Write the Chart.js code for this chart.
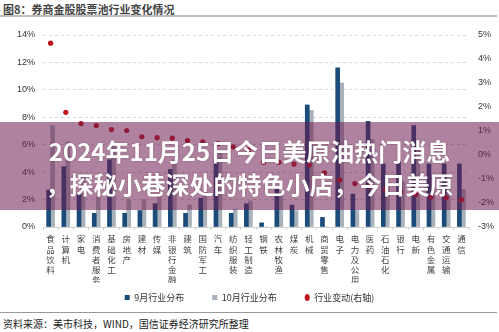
<!DOCTYPE html>
<html>
<head>
<meta charset="utf-8">
<script src="https://cdn.jsdelivr.net/npm/chart.js@4"></script>
<style>
  body { margin: 0; width: 499px; height: 332px; background: #fff; position: relative; overflow: hidden;
         font-family: "Noto Sans CJK SC", "Liberation Sans", sans-serif; }
  #title { position: absolute; left: 3px; top: 1px; font-size: 11px; font-weight: bold; color: #444; white-space: nowrap; }
  #topline { position: absolute; left: 0; top: 15px; width: 497px; height: 2px; background: #bdbdbd; }
  #wrap { position: absolute; left: 0; top: 20px; width: 499px; height: 292px; }
  #bottomline { position: absolute; left: 0; top: 312px; width: 497px; height: 1px; background: #999; }
  #source { position: absolute; left: 3px; top: 316px; font-size: 10px; color: #222; white-space: nowrap; }
  #banner { position: absolute; left: 0; top: 122px; width: 499px; height: 88px; background: rgba(110, 30, 80, 0.55);
            color: #fff; font-weight: bold; font-size: 24px; line-height: 33px; text-align: center; white-space: nowrap;
            padding-top: 12px; box-sizing: border-box; text-shadow: 0 0 2px rgba(60, 20, 40, 0.4); }
</style>
</head>
<body>
<div id="title">图8：券商金股股票池行业变化情况</div>
<div id="topline"></div>
<div id="wrap"><canvas id="chart"></canvas></div>
<div id="bottomline"></div>
<div id="source">资料来源：美市科技，WIND，国信证券经济研究所整理</div>
<div id="banner">2024年11月25日今日美原油热门消息<br>，探秘小巷深处的特色小店，今日美原</div>

<script>
// 行业（按行业变动排序）
const industries = ["食品饮料", "计算机", "家电", "消费者服务", "基础化工", "房地产", "建材", "传媒",
  "非银行金融", "建筑", "国防军工", "汽车", "纺织服装", "轻工制造", "钢铁", "农林牧渔", "煤炭", "机械",
  "商贸零售", "电子", "电力及公用事业", "医药", "石油石化", "银行", "电新", "有色金属", "交通运输", "通信"];

// 9月行业分布 (%)
const sepShare = [2.7, 4.4, 2.4, 1.0, 4.9, 1.0, 1.2, 1.7, 4.2, 1.0, 2.1, 4.9, 1.0, 1.7, 0.3, 2.8, 1.6, 8.9,
  0.7, 11.6, 2.4, 7.7, 4.6, 4.8, 7.4, 4.6, 4.6, 4.6];

// 10月行业分布 (%)
const octShare = [7.4, 6.2, 3.7, 2.2, 6.0, 2.0, 2.0, 2.4, 4.9, 1.6, 2.6, 5.4, 1.3, 1.9, 0.0, 2.5, 1.2, 8.5,
  0.0, 10.5, 1.2, 6.4, 3.2, 3.3, 5.75, 2.85, 2.8, 2.75];

// 行业变动 (右轴, %)
const shareChange = [4.66, 1.78, 1.31, 1.23, 1.06, 1.02, 0.76, 0.72, 0.70, 0.60, 0.55, 0.47, 0.34, 0.20,
  -0.30, -0.30, -0.38, -0.42, -0.74, -1.05, -1.19, -1.30, -1.44, -1.53, -1.65, -1.75, -1.78, -1.86];

// 竖排标签：每个字一行
const verticalLabels = industries.map((name) => name.split(""));

const ctx = document.getElementById("chart").getContext("2d");
new Chart(ctx, {
  data: {
    labels: verticalLabels,
    datasets: [
      {
        type: "bar",
        label: "9月行业分布",
        data: sepShare,
        backgroundColor: "#1b4b78",
        barThickness: 4,
        categoryPercentage: 0.53,
        pointStyle: "rect",
        order: 1,
      },
      {
        type: "bar",
        label: "10月行业分布",
        data: octShare,
        backgroundColor: "#a9b2bb",
        barThickness: 4,
        categoryPercentage: 0.53,
        pointStyle: "rect",
        order: 2,
      },
      {
        type: "line",
        label: "行业变动(右轴)",
        data: shareChange,
        yAxisID: "y1",
        showLine: false,
        pointRadius: 2.6,
        pointBackgroundColor: "#c0141c",
        pointBorderWidth: 0,
        pointStyle: "circle",
        borderColor: "#c0141c",
        backgroundColor: "#c0141c",
        order: 0,
      },
    ],
  },
  options: {
    responsive: true,
    maintainAspectRatio: false,
    animation: false,
    layout: { padding: { top: 15, left: 0, right: 0, bottom: 0 } },
    scales: {
      x: {
        grid: { display: true, drawOnChartArea: false, drawTicks: true, tickLength: 3, color: "#d0d0d0" },
        border: { color: "#d0d0d0" },
        ticks: {
          autoSkip: false,
          maxRotation: 0,
          minRotation: 0,
          padding: 4,
          color: "#444",
          font: { family: "Noto Sans CJK SC", size: 8.5, lineHeight: 1.2 },
        },
        afterFit: (s) => { s.height = 56; },
      },
      y: {
        position: "left",
        min: 0,
        max: 14,
        ticks: {
          stepSize: 2,
          padding: 8,
          color: "#333",
          font: { family: "Liberation Sans", size: 9 },
          callback: (v) => v + "%",
        },
        grid: { color: "#d6d6d6", drawTicks: false },
        border: { display: false, dash: [3, 3] },
        afterFit: (s) => { s.width = 43; },
      },
      y1: {
        position: "right",
        min: -3,
        max: 5,
        ticks: {
          stepSize: 1,
          padding: 9,
          color: "#333",
          font: { family: "Liberation Sans", size: 9 },
          callback: (v) => v + "%",
        },
        grid: { display: false, drawTicks: false },
        border: { display: false },
        afterFit: (s) => { s.width = 30; },
      },
    },
    plugins: {
      legend: {
        position: "bottom",
        labels: {
          usePointStyle: true,
          boxWidth: 5,
          boxHeight: 5,
          pointStyleWidth: 5,
          padding: 10,
          color: "#333",
          font: { family: "Noto Sans CJK SC", size: 9 },
          sort: (a, b) => a.datasetIndex - b.datasetIndex,
          generateLabels: (chart) => {
            const items = Chart.defaults.plugins.legend.labels.generateLabels(chart);
            return items.map((it) => {
              if (it.datasetIndex !== 2) it.text = it.text + "\u2003\u2003";
              return it;
            });
          },
        },
      },
      tooltip: { enabled: false },
    },
  },
});
</script>
</body>
</html>
